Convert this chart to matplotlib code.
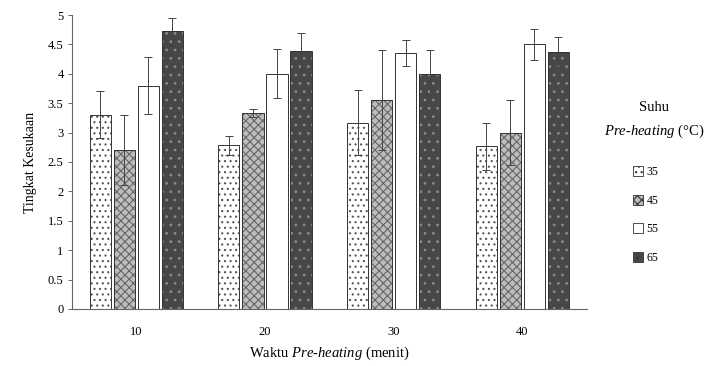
import matplotlib
matplotlib.use('Agg')
from matplotlib import pyplot as plt
from matplotlib.patches import Patch
import numpy as np

plt.rcParams['font.family'] = ['Liberation Serif', 'DejaVu Serif']
plt.rcParams['mathtext.fontset'] = 'custom'
plt.rcParams['mathtext.rm'] = 'Liberation Serif'
plt.rcParams['mathtext.it'] = 'Liberation Serif:italic'
plt.rcParams['hatch.linewidth'] = 0.8

# data
waktu = ['10', '20', '30', '40']
suhu = ['35', '45', '55', '65']
nilai_35 = [3.3, 2.78, 3.17, 2.77]
nilai_45 = [2.7, 3.33, 3.55, 3.0]
nilai_55 = [3.8, 4.0, 4.36, 4.5]
nilai_65 = [4.72, 4.38, 4.0, 4.37]
err_35 = [0.4, 0.17, 0.55, 0.4]
err_45 = [0.6, 0.07, 0.85, 0.55]
err_55 = [0.48, 0.42, 0.22, 0.26]
err_65 = [0.23, 0.32, 0.4, 0.26]

nilai = [nilai_35, nilai_45, nilai_55, nilai_65]
err = [err_35, err_45, err_55, err_65]

# gaya tiap seri
warna = ['white', '#bdbdbd', 'white', '#474747']
arsir = ['...', 'xxxx', '', '..']
garis_arsir = ['#555555', '#666666', '#555555', '#8a8a8a']

fig = plt.figure(figsize=(7.19, 3.66), dpi=100)
ax = fig.add_axes([0.1, 0.156, 0.716, 0.803])

x = np.arange(len(waktu))
bar_width = 0.165
step = 0.187
for i in range(4):
    pos = x + (i - 1.5) * step
    ax.bar(pos, nilai[i], width=bar_width, color=warna[i], hatch=arsir[i],
           edgecolor=garis_arsir[i], linewidth=0.0, zorder=2)
    ax.bar(pos, nilai[i], width=bar_width, color='none', edgecolor='#333333',
           linewidth=0.7, zorder=3)
    ax.errorbar(pos, nilai[i], yerr=err[i], fmt='none', ecolor='#444444',
                elinewidth=0.7, capsize=3, capthick=0.7, zorder=4)

ax.set_xlim(-0.5, 3.5)
ax.set_ylim(0, 5)
ax.set_yticks(np.arange(0, 5.01, 0.5))
ax.set_yticklabels(['0', '0.5', '1', '1.5', '2', '2.5', '3', '3.5', '4', '4.5', '5'])
ax.set_xticks(x)
ax.set_xticklabels(waktu)
ax.tick_params(axis='y', length=3, width=0.7, color='#666666', labelsize=9, pad=3)
ax.tick_params(axis='x', length=0, labelsize=9, pad=12)
for s in ['top', 'right']:
    ax.spines[s].set_visible(False)
for s in ['left', 'bottom']:
    ax.spines[s].set_color('#666666')
    ax.spines[s].set_linewidth(0.8)

ax.set_ylabel('Tingkat Kesukaan', fontsize=10, labelpad=8)
ax.set_xlabel('Waktu $\\it{Pre}$-$\\it{heating}$ (menit)', fontsize=10.5, labelpad=5)

# legenda
handles = [Patch(facecolor=warna[i], hatch=arsir[i], edgecolor='#333333',
                 linewidth=0.6) for i in range(4)]
fig.text(0.91, 0.705, 'Suhu', ha='center', va='center', fontsize=10.5)
fig.text(0.91, 0.64, '$\\it{Pre}$-$\\it{heating}$ (°C)', ha='center',
         va='center', fontsize=10.5)
leg = fig.legend(handles, suhu, loc='upper left', bbox_to_anchor=(0.865, 0.575),
                 frameon=False, fontsize=8.5, handlelength=0.9, handleheight=0.9,
                 handletextpad=0.3, labelspacing=1.4)

fig.savefig('out.png', dpi=100)
